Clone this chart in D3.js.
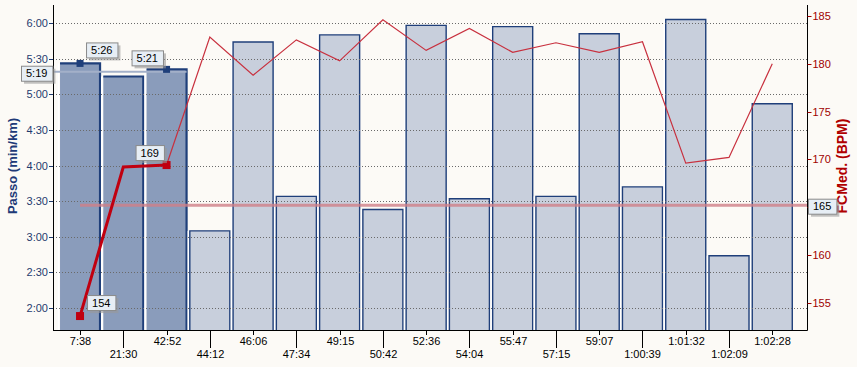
<!DOCTYPE html>
<html>
<head>
<meta charset="utf-8">
<script src="https://cdn.jsdelivr.net/npm/d3@7"></script>
<style>
  body { margin: 0; background: #fcfaf6; }
  text { font-family: "Liberation Sans", Arial, sans-serif; }
</style>
</head>
<body>
<script>
// lap times (x labels)
var laps = ["7:38", "21:30", "42:52", "44:12", "46:06", "47:34", "49:15", "50:42", "52:36",
            "54:04", "55:47", "57:15", "59:07", "1:00:39", "1:01:32", "1:02:09", "1:02:28"];
// pace in seconds per km
var pace = [326, 315, 321, 185, 344, 214, 350, 203, 358, 212, 357, 214, 351, 222, 363, 164, 292];
// average heart rate per lap
var hr = [153.6, 169.2, 169.4, 182.8, 178.8, 182.5, 180.3, 184.6, 181.4, 183.7, 181.2, 182.2, 181.2, 182.3, 169.6, 170.2, 180.0];
// selected laps
var selected = [0, 1, 2];
var paceAvg = 319;
var hrAvg = 165.2;

var paceTicks = [120, 150, 180, 210, 240, 270, 300, 330, 360];
var hrTicks = [155, 160, 165, 170, 175, 180, 185];

var width = 857, height = 367;
var plotL = 53, plotR = 807.5, plotT = 5, plotB = 330;

function fmt(s) {
	var m = Math.floor(s / 60), r = Math.round(s % 60);
	return m + ":" + (r < 10 ? "0" : "") + r;
}

var svg = d3.select("body").append("svg")
	.attr("width", width)
	.attr("height", height)
	.style("background", "#fcfaf6");

var x = d3.scaleBand()
	.domain(d3.range(laps.length))
	.range([58.4, 793.9])
	.paddingInner(0.075)
	.paddingOuter(0.0375);

var y = d3.scaleLinear().domain([101.5, 375.2]).range([plotB, plotT]);
var y2 = d3.scaleLinear().domain([152.14, 186.15]).range([plotB, plotT]);

// bars
var bars = svg.append("g");
pace.forEach(function(v, i) {
	var sel = selected.indexOf(i) >= 0;
	var x0 = x(i), w = x.bandwidth(), y0 = y(v);
	bars.append("line")
		.attr("x1", x0 - 1.5).attr("x2", x0 - 1.5)
		.attr("y1", y0).attr("y2", plotB)
		.attr("stroke", "#ffffff").attr("stroke-width", 1.5);
	bars.append("rect")
		.attr("x", x0).attr("y", y0)
		.attr("width", w).attr("height", plotB - y0)
		.attr("fill", sel ? "#8a9cbb" : "#c8cfdc");
	var p = sel
		? "M" + x0 + "," + y0 + "H" + (x0 + w) + "V" + plotB
		: "M" + x0 + "," + plotB + "V" + y0 + "H" + (x0 + w) + "V" + plotB;
	bars.append("path")
		.attr("d", p)
		.attr("fill", "none")
		.attr("stroke", "#1f3f7a")
		.attr("stroke-width", sel ? 2.2 : 1.4);
});

// grid
svg.append("g").selectAll("line")
	.data(paceTicks)
	.join("line")
	.attr("x1", plotL).attr("x2", plotR)
	.attr("y1", d => Math.round(y(d)) + 0.5)
	.attr("y2", d => Math.round(y(d)) + 0.5)
	.attr("stroke", "#6a6a6a")
	.attr("stroke-dasharray", "1,2");

// average pace line of the selection
svg.append("line")
	.attr("x1", plotL).attr("x2", x(2) + x.bandwidth())
	.attr("y1", y(paceAvg)).attr("y2", y(paceAvg))
	.attr("stroke", "#a3b0c9").attr("stroke-width", 2);

// average hr line
svg.append("line")
	.attr("x1", x(0) + x.bandwidth() / 2).attr("x2", plotR)
	.attr("y1", y2(hrAvg)).attr("y2", y2(hrAvg))
	.attr("stroke", "#cf8088").attr("stroke-opacity", 0.8).attr("stroke-width", 3);

// heart rate line
var cx = i => x(i) + x.bandwidth() / 2;
var line = d3.line().x(d => cx(d.i)).y(d => y2(d.v));
var hrPts = hr.map((v, i) => ({ i: i, v: v }));
svg.append("path")
	.attr("d", line(hrPts.slice(2)))
	.attr("fill", "none")
	.attr("stroke", "#c8303e")
	.attr("stroke-width", 1.2);
svg.append("path")
	.attr("d", line(hrPts.slice(0, 3)))
	.attr("fill", "none")
	.attr("stroke", "#c00010")
	.attr("stroke-width", 3);

// markers
[0, 2].forEach(function(i) {
	svg.append("rect")
		.attr("x", cx(i) - 3.5).attr("y", y(pace[i]) - 3.5)
		.attr("width", 7).attr("height", 7)
		.attr("fill", "#1f3f7a");
	svg.append("rect")
		.attr("x", cx(i) - 4).attr("y", y2(hr[i]) - 4)
		.attr("width", 8).attr("height", 8)
		.attr("fill", "#c00010");
});

// axes lines
svg.append("line").attr("x1", plotL + 0.5).attr("x2", plotL + 0.5).attr("y1", plotT).attr("y2", plotB + 0.5).attr("stroke", "#000");
svg.append("line").attr("x1", plotR).attr("x2", plotR).attr("y1", plotT).attr("y2", plotB + 0.5).attr("stroke", "#000");
svg.append("line").attr("x1", plotL).attr("x2", plotR).attr("y1", plotB + 0.5).attr("y2", plotB + 0.5).attr("stroke", "#000");

// left ticks
var lt = svg.append("g").selectAll("g").data(paceTicks).join("g")
	.attr("transform", d => "translate(0," + (Math.round(y(d)) + 0.5) + ")");
lt.append("line").attr("x1", plotL - 4).attr("x2", plotL).attr("stroke", "#1f3a6e");
lt.append("text").attr("x", plotL - 5).attr("dy", "0.35em")
	.attr("text-anchor", "end").attr("font-size", 11).attr("fill", "#1f3a6e")
	.text(d => fmt(d));

// right ticks
var rt = svg.append("g").selectAll("g").data(hrTicks).join("g")
	.attr("transform", d => "translate(0," + (Math.round(y2(d)) + 0.5) + ")");
rt.append("line").attr("x1", plotR).attr("x2", plotR + 4).attr("stroke", "#a00000");
rt.append("text").attr("x", plotR + 5).attr("dy", "0.35em")
	.attr("font-size", 11).attr("fill", "#a00000")
	.text(d => d);

// bottom ticks
var bt = svg.append("g").selectAll("g").data(laps).join("g")
	.attr("transform", (d, i) => "translate(" + (Math.round(cx(i)) + 0.5) + ",0)");
bt.append("line")
	.attr("y1", plotB).attr("y2", (d, i) => i % 2 ? plotB + 18 : plotB + 5)
	.attr("stroke", "#000");
bt.append("text")
	.attr("y", (d, i) => i % 2 ? 358 : 345)
	.attr("text-anchor", "middle").attr("font-size", 11).attr("fill", "#000")
	.text(d => d);

// axis titles
svg.append("text")
	.attr("transform", "translate(17,166) rotate(-90)")
	.attr("text-anchor", "middle").attr("font-size", 13).attr("font-weight", "bold")
	.attr("fill", "#1f3a78")
	.text("Passo (min/km)");
svg.append("text")
	.attr("transform", "translate(847,166) rotate(-90)")
	.attr("text-anchor", "middle").attr("font-size", 14).attr("font-weight", "bold")
	.attr("fill", "#b00000")
	.text("FCMed. (BPM)");

// label boxes
function label(txt, bx, by) {
	var g = svg.append("g").attr("transform", "translate(" + bx + "," + by + ")");
	var t = g.append("text").attr("x", 5).attr("y", 11.5).attr("font-size", 11).attr("fill", "#000").text(txt);
	var w = t.node().getComputedTextLength() + 10;
	g.insert("rect", "text").attr("x", 3).attr("y", 3).attr("width", w).attr("height", 15).attr("fill", "#9a9a9a").attr("opacity", 0.6);
	g.insert("rect", "text").attr("x", 0.5).attr("y", 0.5).attr("width", w).attr("height", 15)
		.attr("fill", "#e7eef5").attr("stroke", "#8a8a8a");
}
label(fmt(pace[0]), cx(0) + 6, y(pace[0]) - 21);
label(fmt(pace[2]), cx(2) - 35, y(pace[2]) - 19);
label(fmt(paceAvg), 21, y(paceAvg) - 6);
label(Math.round(hr[0]), cx(0) + 7, y2(hr[0]) - 21);
label(Math.round(hr[2]), cx(2) - 31, y2(hr[2]) - 20);
label(Math.round(hrAvg), plotR + 0.5, y2(hrAvg) - 6.5);
</script>
</body>
</html>
